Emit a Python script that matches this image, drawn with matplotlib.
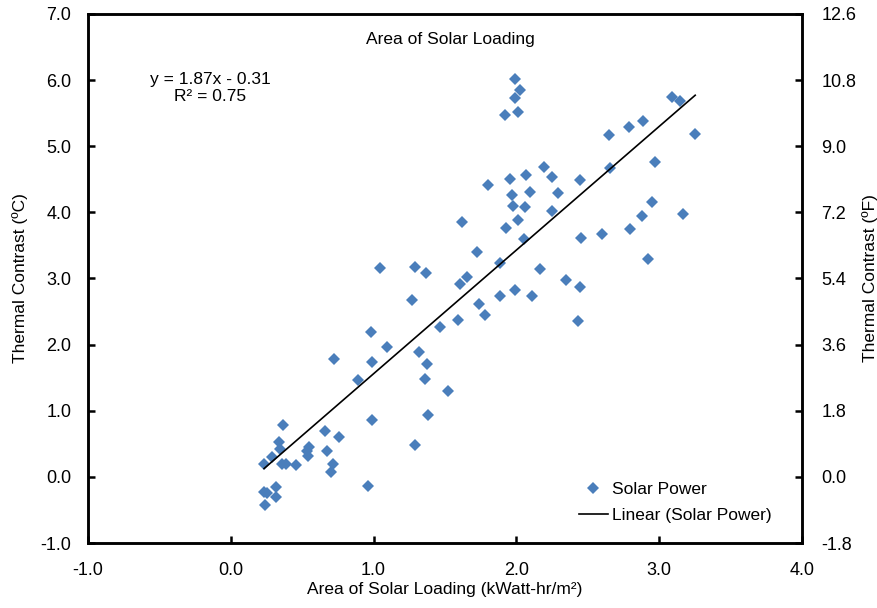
import numpy as np
import matplotlib.pyplot as plt

# solar loading (kWatt-hr/m2) and thermal contrast (C)
load = [0.979, 1.096, 0.722, 0.988, 1.315, 0.888, 0.364, 0.991, 0.657, 0.760,
        0.336, 0.345, 0.287, 0.233, 0.550, 0.534, 0.671, 0.541, 0.359, 0.387,
        0.457, 0.713, 0.699, 1.287, 0.958, 0.317, 0.233, 0.252, 0.315, 0.243,
        1.622, 1.725, 1.044, 1.289, 1.366, 1.657, 1.608, 1.270, 1.737, 1.783,
        1.590, 1.462, 1.375, 1.357, 1.520, 1.378,
        1.989, 2.023, 1.989, 1.918, 2.012, 2.650, 2.786, 2.191, 2.247, 2.068,
        1.958, 1.804, 2.448, 2.655, 1.970, 2.093, 2.291, 1.979, 2.063, 2.252,
        2.009, 1.930, 2.051, 2.452, 2.601, 2.795, 1.888, 2.166, 2.347, 2.443,
        1.993, 1.886, 2.107, 2.429,
        3.093, 3.144, 2.888, 3.252, 2.972, 2.953, 2.879, 3.168, 2.925]
contrast = [2.19, 1.96, 1.79, 1.74, 1.89, 1.46, 0.78, 0.86, 0.69, 0.60,
            0.53, 0.42, 0.30, 0.20, 0.45, 0.39, 0.39, 0.31, 0.20, 0.19,
            0.18, 0.19, 0.07, 0.48, -0.14, -0.16, -0.23, -0.24, -0.31, -0.43,
            3.86, 3.40, 3.16, 3.17, 3.08, 3.03, 2.92, 2.67, 2.61, 2.45,
            2.37, 2.27, 1.71, 1.48, 1.30, 0.94,
            6.02, 5.85, 5.73, 5.47, 5.52, 5.17, 5.29, 4.68, 4.54, 4.57,
            4.51, 4.42, 4.49, 4.67, 4.27, 4.31, 4.29, 4.10, 4.08, 4.02,
            3.88, 3.77, 3.59, 3.61, 3.67, 3.75, 3.24, 3.14, 2.98, 2.87,
            2.82, 2.73, 2.73, 2.36,
            5.74, 5.69, 5.38, 5.18, 4.76, 4.16, 3.95, 3.97, 3.30]

slope, intercept, r2 = 1.87, -0.31, 0.75
x_ticks = [-1.0, 0.0, 1.0, 2.0, 3.0, 4.0]
c_ticks = [-1.0, 0.0, 1.0, 2.0, 3.0, 4.0, 5.0, 6.0, 7.0]


def plot():
    plt.rcParams['font.family'] = ['Liberation Sans', 'DejaVu Sans']
    fig, ax = plt.subplots(figsize=(8.77, 6.08), dpi=100)
    fig.subplots_adjust(left=0.1003, right=0.9145, top=0.977, bottom=0.1069)

    x = np.array(load)
    ax.plot(x, contrast, 'D', color='#4a7ebb', markersize=6.6,
            markeredgewidth=0, label='Solar Power')
    xl = np.array([x.min(), x.max()])
    ax.plot(xl, slope * xl + intercept, color='black', linewidth=1.2,
            label='Linear (Solar Power)')

    ax.set_xlim(-1.0, 4.0)
    ax.set_ylim(-1.0, 7.0)
    ax.set_xticks(x_ticks)
    ax.set_yticks(c_ticks)
    ax.set_xticklabels(['%.1f' % t for t in x_ticks])
    ax.set_yticklabels(['%.1f' % t for t in c_ticks])
    ax.tick_params(axis='both', direction='in', length=5, width=1.8,
                   labelsize=13)
    ax.tick_params(axis='x', pad=14)
    ax.tick_params(axis='y', pad=12)
    for s in ax.spines.values():
        s.set_linewidth(1.8)

    ax2 = ax.twinx()
    ax2.set_ylim(-1.0 * 1.8, 7.0 * 1.8)
    f_ticks = [t * 1.8 for t in c_ticks]
    ax2.set_yticks(f_ticks)
    ax2.set_yticklabels(['%.1f' % t for t in f_ticks])
    ax2.tick_params(direction='in', length=5, width=1.8, labelsize=13, pad=14)
    for s in ax2.spines.values():
        s.set_linewidth(1.8)

    ax.set_xlabel('Area of Solar Loading (kWatt-hr/m²)', fontsize=12.5,
                  labelpad=2)
    ax.set_ylabel('Thermal Contrast (ºC)', fontsize=12.5, labelpad=9)
    ax2.set_ylabel('Thermal Contrast (ºF)', fontsize=12.5, labelpad=4)

    ax.text(0.508, 0.951, 'Area of Solar Loading', transform=ax.transAxes,
            ha='center', va='center', fontsize=12.5)
    ax.text(0.171, 0.86, 'y = %.2fx - %.2f\nR² = %.2f' % (slope, -intercept, r2),
            transform=ax.transAxes, ha='center', va='center', fontsize=12.5,
            linespacing=1.1)

    ax.legend(loc='lower right', bbox_to_anchor=(0.975, 0.015), frameon=False,
              fontsize=12.5, handlelength=1.7, handletextpad=0.25,
              labelspacing=0.6, borderpad=0.2)

    fig.savefig('out.png', dpi=100)


if __name__ == "__main__":
    plot()
